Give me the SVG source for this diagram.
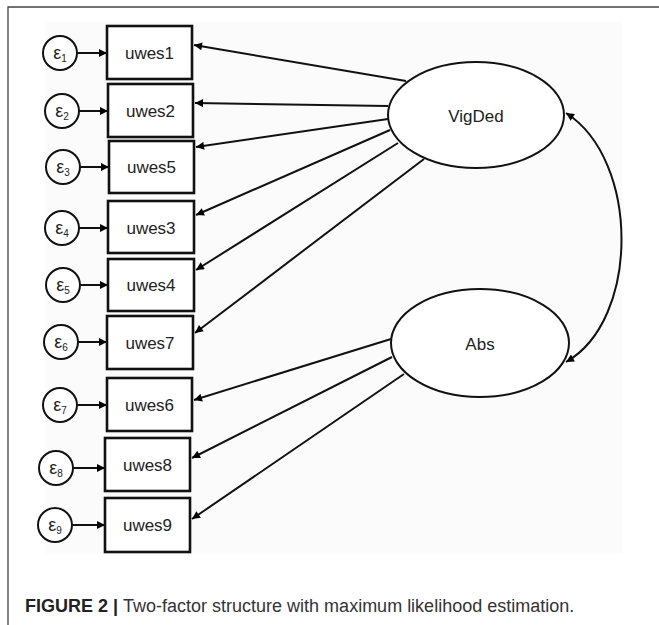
<svg xmlns="http://www.w3.org/2000/svg" width="659" height="625" viewBox="0 0 659 625">
<defs>
<marker id="ah" viewBox="0 0 10 10" refX="10" refY="5" markerWidth="11" markerHeight="8" markerUnits="userSpaceOnUse" orient="auto-start-reverse">
<path d="M0,0 L10,5 L0,10 z" fill="#000"/>
</marker>
<style>
.box{fill:#fff;stroke:#111;stroke-width:2.6}
.err{fill:#fff;stroke:#111;stroke-width:2}
.lat{fill:#fff;stroke:#111;stroke-width:2}
.lbl{font-family:"Liberation Sans",Arial,sans-serif;font-size:17px;fill:#222;text-anchor:middle}
.eps{font-family:"Liberation Sans",Arial,sans-serif;font-size:18px;fill:#222;text-anchor:middle}
.sub{font-size:10px}
.ln{stroke:#111;stroke-width:2;fill:none;marker-end:url(#ah)}
.cap{font-family:"Liberation Sans",Arial,sans-serif;font-size:18px;fill:#333}
</style>
</defs>
<rect x="0" y="0" width="659" height="625" fill="#fff"/>
<path d="M8,625 V7 H659" fill="none" stroke="#444" stroke-width="1.3"/>
<rect x="45" y="22" width="577" height="531" fill="#fbfbfb"/>

<g id="connectors">
<line class="ln" x1="77" y1="53" x2="107" y2="53"/>
<line class="ln" x1="79" y1="111" x2="108" y2="111"/>
<line class="ln" x1="80" y1="167" x2="109" y2="167"/>
<line class="ln" x1="79" y1="228" x2="108" y2="228"/>
<line class="ln" x1="80" y1="285" x2="108" y2="285"/>
<line class="ln" x1="78" y1="342" x2="107" y2="342"/>
<line class="ln" x1="77" y1="405" x2="107" y2="405"/>
<line class="ln" x1="73" y1="468" x2="105" y2="468"/>
<line class="ln" x1="72" y1="525" x2="105" y2="525"/>
<line class="ln" x1="406" y1="81" x2="194" y2="45"/>
<line class="ln" x1="388" y1="106" x2="195" y2="103"/>
<line class="ln" x1="388" y1="119" x2="196" y2="147"/>
<line class="ln" x1="390" y1="130" x2="196" y2="215"/>
<line class="ln" x1="398" y1="143" x2="196" y2="270"/>
<line class="ln" x1="424" y1="159" x2="195" y2="333"/>
<line class="ln" x1="391" y1="339" x2="194" y2="400"/>
<line class="ln" x1="392" y1="357" x2="192" y2="458"/>
<line class="ln" x1="404" y1="374" x2="192" y2="519"/>
<path class="ln" style="marker-start:url(#ah)" d="M566,362 C640,320 640,160 566,113"/>
</g>

<g id="e1"><circle class="err" cx="60" cy="53" r="17"/><text class="eps" x="60" y="59">ε<tspan class="sub" dy="3">1</tspan></text></g>
<g id="e2"><circle class="err" cx="62" cy="111" r="17"/><text class="eps" x="62" y="117">ε<tspan class="sub" dy="3">2</tspan></text></g>
<g id="e3"><circle class="err" cx="63" cy="167" r="17"/><text class="eps" x="63" y="173">ε<tspan class="sub" dy="3">3</tspan></text></g>
<g id="e4"><circle class="err" cx="62" cy="228" r="17"/><text class="eps" x="62" y="234">ε<tspan class="sub" dy="3">4</tspan></text></g>
<g id="e5"><circle class="err" cx="63" cy="285" r="17"/><text class="eps" x="63" y="291">ε<tspan class="sub" dy="3">5</tspan></text></g>
<g id="e6"><circle class="err" cx="61" cy="342" r="17"/><text class="eps" x="61" y="348">ε<tspan class="sub" dy="3">6</tspan></text></g>
<g id="e7"><circle class="err" cx="60" cy="405" r="17"/><text class="eps" x="60" y="411">ε<tspan class="sub" dy="3">7</tspan></text></g>
<g id="e8"><circle class="err" cx="56" cy="468" r="17"/><text class="eps" x="56" y="474">ε<tspan class="sub" dy="3">8</tspan></text></g>
<g id="e9"><circle class="err" cx="55" cy="525" r="17"/><text class="eps" x="55" y="531">ε<tspan class="sub" dy="3">9</tspan></text></g>

<g id="uwes1"><rect class="box" x="107" y="26" width="85" height="53"/><text class="lbl" x="149.5" y="59">uwes1</text></g>
<g id="uwes2"><rect class="box" x="108" y="84" width="85" height="53"/><text class="lbl" x="150.5" y="117">uwes2</text></g>
<g id="uwes5"><rect class="box" x="109" y="141" width="85" height="52"/><text class="lbl" x="151.5" y="173">uwes5</text></g>
<g id="uwes3"><rect class="box" x="108" y="201" width="86" height="52"/><text class="lbl" x="151" y="234">uwes3</text></g>
<g id="uwes4"><rect class="box" x="108" y="259" width="86" height="52"/><text class="lbl" x="151" y="291">uwes4</text></g>
<g id="uwes7"><rect class="box" x="107" y="316" width="86" height="53"/><text class="lbl" x="150" y="349">uwes7</text></g>
<g id="uwes6"><rect class="box" x="107" y="378" width="85" height="53"/><text class="lbl" x="149.5" y="411">uwes6</text></g>
<g id="uwes8"><rect class="box" x="105" y="438" width="85" height="53"/><text class="lbl" x="147.5" y="471">uwes8</text></g>
<g id="uwes9"><rect class="box" x="105" y="498" width="85" height="54"/><text class="lbl" x="147.5" y="531">uwes9</text></g>

<g id="VigDed"><ellipse class="lat" cx="476" cy="115" rx="88" ry="53"/><text class="lbl" x="476" y="122">VigDed</text></g>
<g id="Abs"><ellipse class="lat" cx="480" cy="343" rx="89" ry="54"/><text class="lbl" x="480" y="350">Abs</text></g>

<text class="cap" x="25" y="612"><tspan font-weight="bold" fill="#222">FIGURE 2 | </tspan>Two-factor structure with maximum likelihood estimation.</text>
</svg>
